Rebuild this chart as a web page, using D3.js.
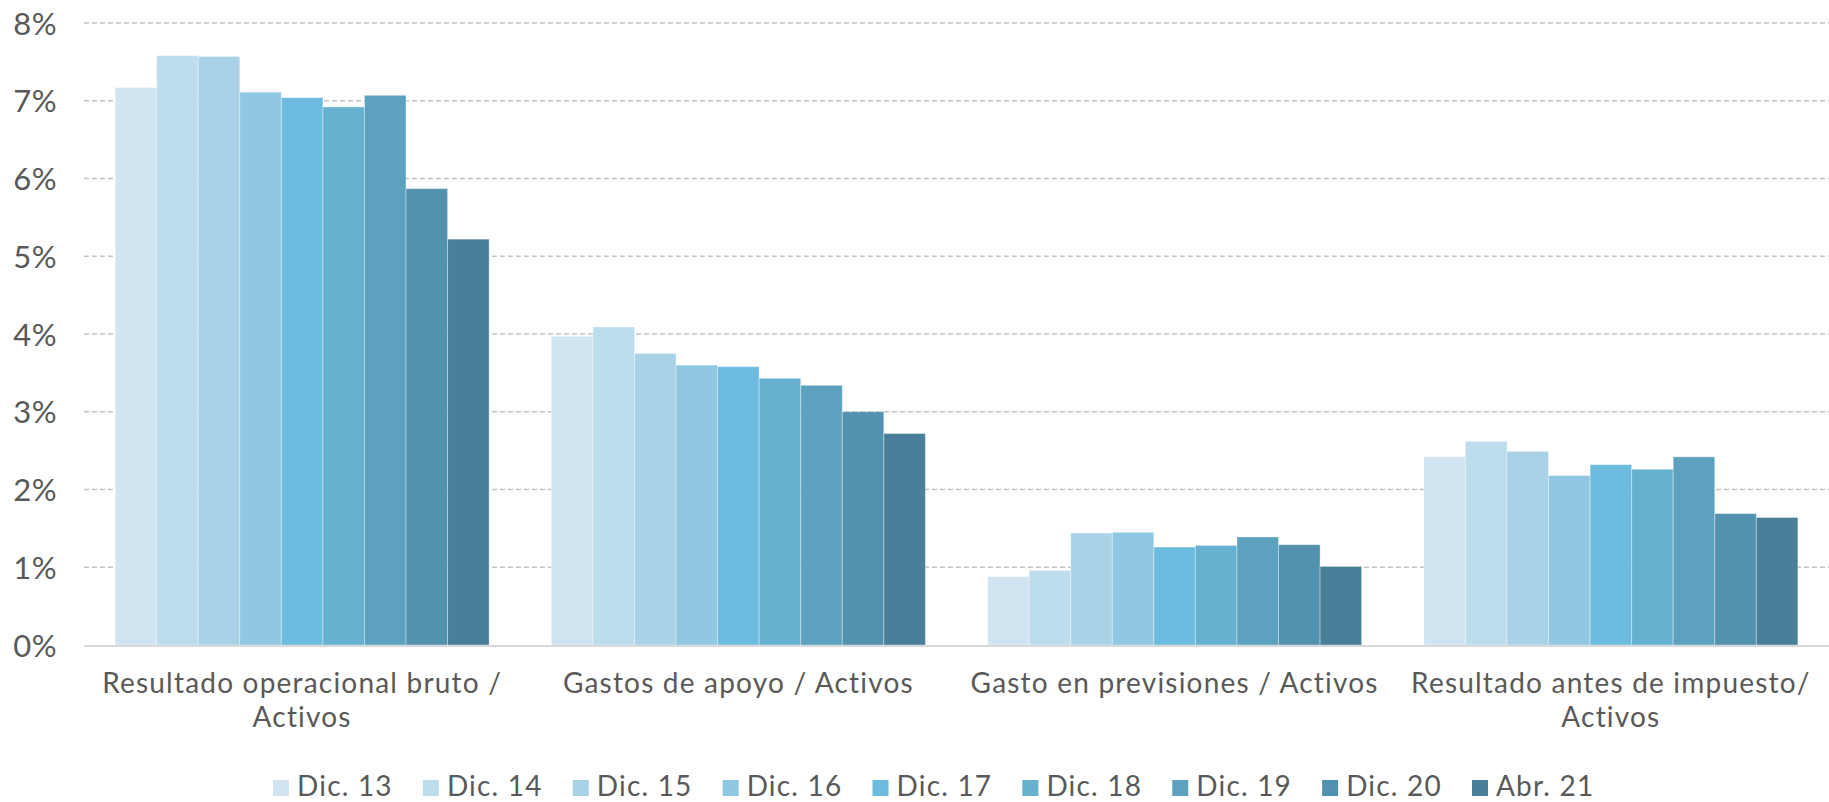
<!DOCTYPE html>
<html>
<head>
<meta charset="utf-8">
<script src="https://cdn.jsdelivr.net/npm/d3@7"></script>
<style>
  html, body { margin: 0; padding: 0; background: #fff; }
  svg { display: block; }
  text { font-family: Lato, "Open Sans", sans-serif; fill: #595959; }
</style>
</head>
<body>
<svg id="chart" width="1829" height="802"></svg>
<script>
// ---- data ----
const categories = [
  "Resultado operacional bruto / Activos",
  "Gastos de apoyo / Activos",
  "Gasto en previsiones / Activos",
  "Resultado antes de impuesto/ Activos"
];
const seriesNames = ["Dic. 13","Dic. 14","Dic. 15","Dic. 16","Dic. 17","Dic. 18","Dic. 19","Dic. 20","Abr. 21"];
// values in %, one array per series (order follows categories)
const dic13 = [7.17, 3.97, 0.88, 2.42];
const dic14 = [7.58, 4.09, 0.96, 2.62];
const dic15 = [7.57, 3.75, 1.44, 2.49];
const dic16 = [7.11, 3.60, 1.45, 2.18];
const dic17 = [7.04, 3.58, 1.26, 2.32];
const dic18 = [6.92, 3.43, 1.28, 2.26];
const dic19 = [7.07, 3.34, 1.39, 2.42];
const dic20 = [5.87, 3.00, 1.29, 1.69];
const abr21 = [5.22, 2.72, 1.01, 1.64];
const seriesValues = [dic13, dic14, dic15, dic16, dic17, dic18, dic19, dic20, abr21];
const colors = ["#d0e4f1","#bddcec","#aad2e7","#90c7e2","#6dbbde","#66b0d0","#5ca2bf","#5392ae","#4a7f99"];
const yTicks = [0,1,2,3,4,5,6,7,8];

// ---- layout ----
const svg = d3.select("#chart");
const plotL = 84, plotR = 1829, plotT = 23, plotB = 645;

const y = d3.scaleLinear().domain([0, 8]).range([plotB, plotT]);
const x0 = d3.scaleBand().domain(categories).range([plotL, plotR])
  .paddingInner(0.1427).paddingOuter(0.07135);
const x1 = d3.scaleBand().domain(seriesNames).range([0, x0.bandwidth()]).padding(0);
const color = d3.scaleOrdinal().domain(seriesNames).range(colors);

// gridlines
svg.append("g").selectAll("line").data(yTicks.filter(d => d > 0)).join("line")
  .attr("x1", plotL).attr("x2", plotR)
  .attr("y1", d => y(d)).attr("y2", d => y(d))
  .attr("stroke", "#c3c3c3").attr("stroke-width", 1.5)
  .attr("stroke-dasharray", "5,3");

// y axis labels
const yAxis = d3.axisLeft(y).tickValues(yTicks).tickFormat(d => d + "%").tickSize(0).tickPadding(0);
const yg = svg.append("g").attr("transform", `translate(57,0)`).call(yAxis);
yg.select(".domain").remove();
yg.selectAll("text").style("font-size", "31px").style("font-family", "Lato, sans-serif")
  .style("letter-spacing", "0.5px")
  .attr("fill", "#595959").attr("dy", "0.36em");

// bars
const groups = svg.append("g").selectAll("g").data(categories).join("g")
  .attr("transform", d => `translate(${x0(d)},0)`);
groups.selectAll("rect")
  .data((c, ci) => seriesNames.map((s, si) => ({ s, v: seriesValues[si][ci] })))
  .join("rect")
  .attr("x", d => x1(d.s))
  .attr("width", x1.bandwidth())
  .attr("y", d => y(d.v))
  .attr("height", d => y(0) - y(d.v))
  .attr("fill", d => color(d.s))
  .attr("stroke", "rgba(255,255,255,0.35)")
  .attr("stroke-width", 1);

// baseline
svg.append("line").attr("x1", plotL).attr("x2", plotR)
  .attr("y1", y(0) + 1).attr("y2", y(0) + 1)
  .attr("stroke", "#d9d9d9").attr("stroke-width", 2);

// category labels with wrapping
const maxW = 425;
const labels = svg.append("g").selectAll("text").data(categories).join("text")
  .attr("x", d => x0(d) + x0.bandwidth() / 2)
  .attr("y", 693)
  .attr("text-anchor", "middle")
  .style("font-size", "28px")
  .style("letter-spacing", "1.2px");
labels.each(function(d) {
  const t = d3.select(this);
  const words = d.split(" ");
  let line = [];
  let tspan = t.append("tspan").attr("x", t.attr("x")).attr("dy", 0);
  words.forEach(w => {
    line.push(w);
    tspan.text(line.join(" "));
    if (tspan.node().getComputedTextLength() > maxW && line.length > 1) {
      line.pop();
      tspan.text(line.join(" "));
      line = [w];
      tspan = t.append("tspan").attr("x", t.attr("x")).attr("dy", 34).text(w);
    }
  });
});

// legend
const lx = d3.scalePoint().domain(seriesNames).range([273, 1472]);
const leg = svg.append("g").selectAll("g").data(seriesNames).join("g")
  .attr("transform", d => `translate(${lx(d)},0)`);
leg.append("rect").attr("x", 0).attr("y", 780).attr("width", 16).attr("height", 16)
  .attr("fill", d => color(d));
leg.append("text").attr("x", 24).attr("y", 796)
  .style("font-size", "28px").style("letter-spacing", "1.2px").text(d => d);
</script>
</body>
</html>
